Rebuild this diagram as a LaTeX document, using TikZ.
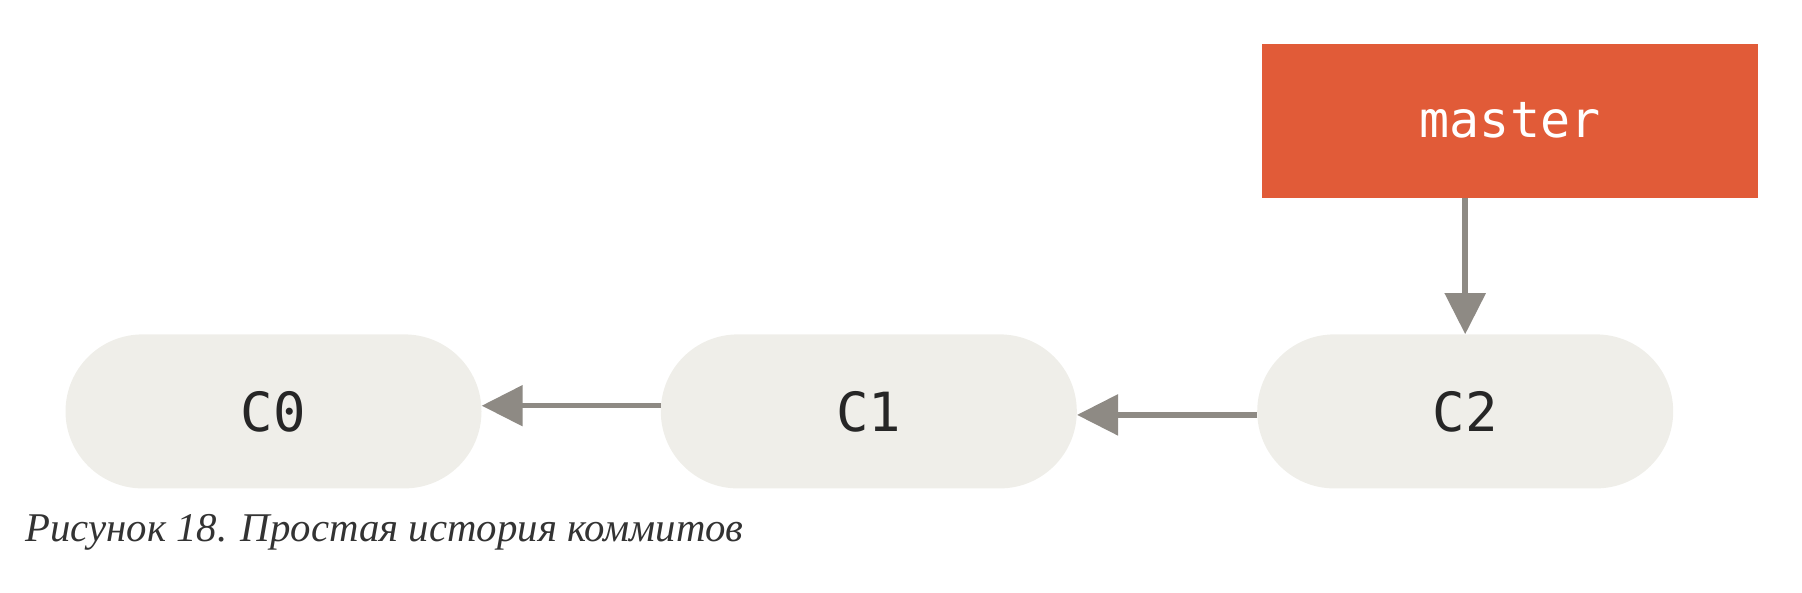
\documentclass[tikz,border=0pt]{standalone}
\usepackage{fontspec}
\setmainfont{Liberation Serif}
\setmonofont{DejaVu Sans Mono}
\usetikzlibrary{arrows.meta,shapes.misc}
\definecolor{pillfill}{HTML}{EFEEE9}
\definecolor{branchred}{HTML}{E15B38}
\definecolor{arrowgray}{HTML}{8E8A84}
\begin{document}
\begin{tikzpicture}[x=1pt,y=-1pt,
  commit/.style={rounded rectangle, fill=pillfill, minimum width=416pt, minimum height=154pt, inner sep=0pt, font=\ttfamily\fontsize{54}{60}\selectfont, text=black!85},
  branch/.style={rectangle, fill=branchred, minimum width=496pt, minimum height=154pt, inner sep=0pt, font=\ttfamily\fontsize{50}{56}\selectfont, text=white},
  link/.style={draw=arrowgray, line width=5.5pt, -{Triangle[length=41pt,width=40pt]}}]
\useasboundingbox (0,0) rectangle (1802,592);
\node[commit] (c0) at (273.5,411.4) {C0};
\node[commit] (c1) at (868.8,411.4) {C1};
\node[commit] (c2) at (1465.2,411.4) {C2};
\node[branch] (master) at (1510,120.7) {master};
\coordinate (a1s) at (660.8,405.7);
\coordinate (a1e) at (481.5,405.7);
\coordinate (a2s) at (1257.2,414.9);
\coordinate (a2e) at (1076.8,414.9);
\draw[link] (c1.west |- a1s) -- (c0.east |- a1e);
\draw[link] (c2.west |- a2s) -- (c1.east |- a2e);
\draw[link] (master.south -| c2.north) -- (c2.north);
\node[anchor=base west, inner sep=0pt, font=\itshape\fontsize{40.8}{48}\selectfont, text=black!80] (cap) at (25,541) {Рисунок 18. Простая история коммитов};
\end{tikzpicture}
\end{document}
